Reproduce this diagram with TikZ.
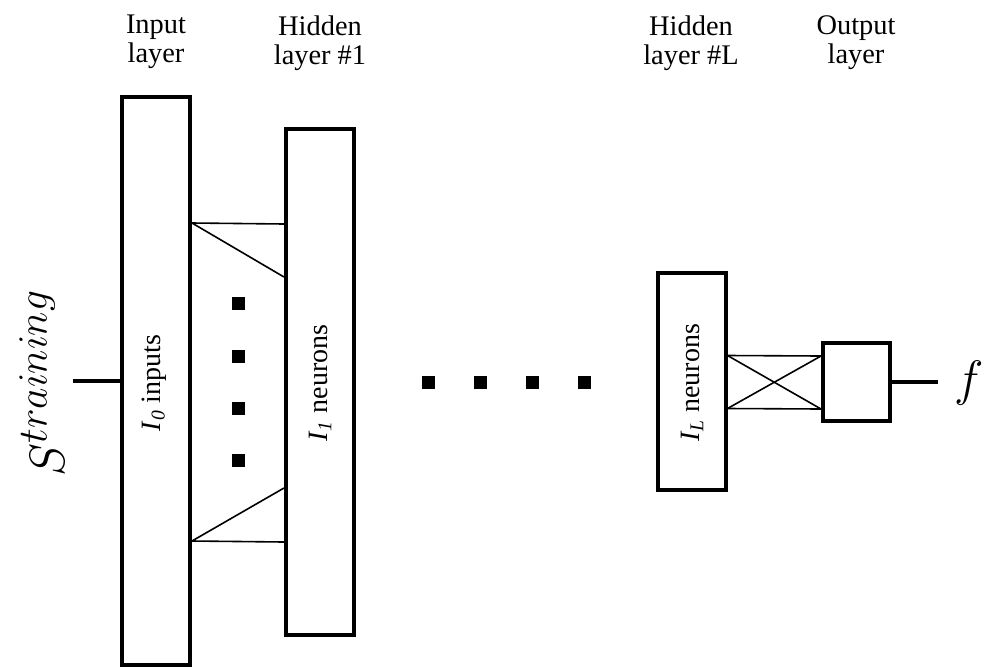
\documentclass[tikz,border=0pt]{standalone}
\usepackage{fontspec}
\setmainfont{Liberation Serif}
\begin{document}
\begin{tikzpicture}[x=0.5pt,y=-0.5pt,
	layer/.style={draw, line width=2pt, inner sep=0pt},
	link/.style={line width=0.8pt},
	wire/.style={line width=2pt},
	blob/.style={fill=black, inner sep=0pt, minimum size=6.5pt},
	title/.style={align=center, anchor=north, inner sep=0pt, font=\fontsize{14.2}{14.5}\selectfont},
	inlabel/.style={rotate=90, font=\fontsize{14}{16}\selectfont}]
	\useasboundingbox (0,0) rectangle (1005,669);
	% layers
	\node[layer, minimum width=34pt, minimum height=284pt] (inp) at (156,381) {};
	\node[layer, minimum width=34pt, minimum height=253pt] (hid1) at (320,382) {};
	\node[layer, minimum width=34pt, minimum height=108.5pt] (hidL) at (691.5,381.5) {};
	\node[layer, minimum width=33.5pt, minimum height=39pt] (outp) at (856.5,382) {};
	\node[inlabel] at (154,383) {\textit{I}\textsubscript{\textit{0}} inputs};
	\node[inlabel] at (320,383) {\textit{I}\textsubscript{\textit{1}} neurons};
	\node[inlabel] at (692,383) {\textit{I}\textsubscript{\textit{L}} neurons};
	% titles
	\node[title] at (156,15) {Input\\layer};
	\node[title] at (320,15) {Hidden\\layer \#1};
	\node[title] at (691,15) {Hidden\\layer \#L};
	\node[title] at (856,15) {Output\\layer};
	% input and output
	\coordinate (sin) at (73,381);
	\draw[wire] (sin) -- (inp.west);
	\node[rotate=90, inner sep=0pt, font=\fontsize{24.88}{30}\selectfont] (strain) at (42,383) {$S^{training}$};
	\coordinate (fend) at (938,382);
	\draw[wire] (outp.east) -- (fend);
	\node[inner sep=0pt, font=\fontsize{24.88}{30}\selectfont] (fout) at (969,383) {$f$};
	% connections input -> hidden 1
	\draw[link] ([yshift=79pt]inp.east) -- ([yshift=79pt]hid1.west);
	\draw[link] ([yshift=79pt]inp.east) -- ([yshift=52.5pt]hid1.west);
	\draw[link] ([yshift=-80pt]inp.east) -- ([yshift=-80pt]hid1.west);
	\draw[link] ([yshift=-80pt]inp.east) -- ([yshift=-53pt]hid1.west);
	\foreach \y [count=\i] in {303,356,408,460}
		\node[blob] (v\i) at (238,\y) {};
	% more hidden layers
	\foreach \x [count=\i] in {428,480,532,584}
		\node[blob] (h\i) at (\x,382) {};
	% connections hidden L -> output
	\draw[link] ([yshift=13pt]hidL.east) -- ([yshift=13pt]outp.west);
	\draw[link] ([yshift=-13.5pt]hidL.east) -- ([yshift=-13.5pt]outp.west);
	\draw[link] ([yshift=13pt]hidL.east) -- ([yshift=-13.5pt]outp.west);
	\draw[link] ([yshift=-13.5pt]hidL.east) -- ([yshift=13pt]outp.west);
\end{tikzpicture}
\end{document}
